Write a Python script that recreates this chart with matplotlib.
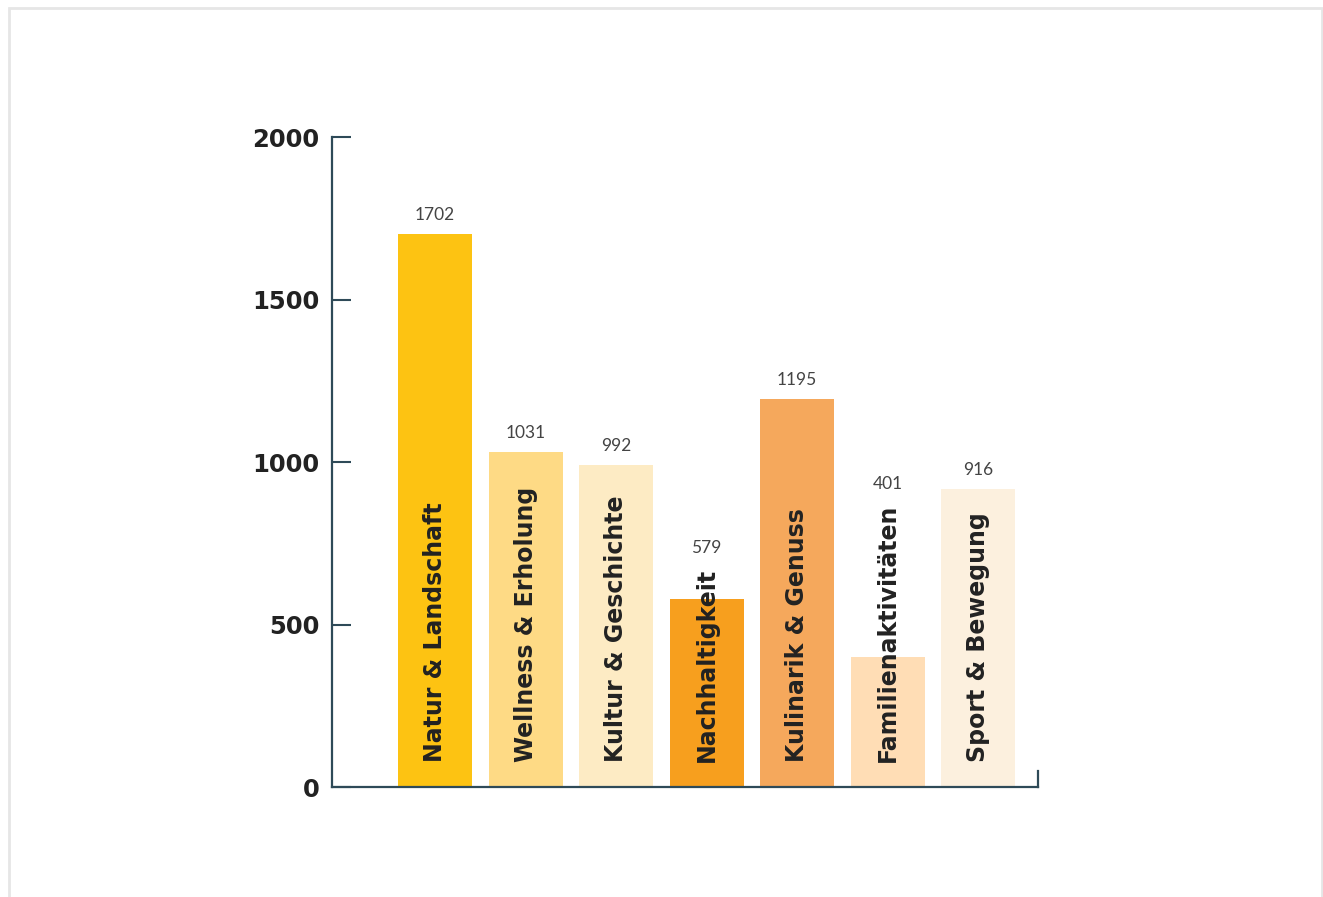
import matplotlib.pyplot as plt
from matplotlib.patches import Rectangle

##############################################
# Data
##############################################
categories = ["Natur & Landschaft", "Wellness & Erholung", "Kultur & Geschichte",
              "Nachhaltigkeit", "Kulinarik & Genuss", "Familienaktivitäten",
              "Sport & Bewegung"]
values = [1702, 1031, 992, 579, 1195, 401, 916]
colors = ["#FDC312", "#FEDA85", "#FDEBC4", "#F79F1E", "#F5A85C", "#FFDDB5", "#FCF0DE"]
yticks = [0, 500, 1000, 1500, 2000]

AXIS_COLOR = "#2E4A58"
TEXT_COLOR = "#222222"

##############################################
# Plot
##############################################
plt.rcParams['font.family'] = ['DejaVu Sans']

fig = plt.figure(figsize=(13.23, 8.97), dpi=100)
fig.patches.append(Rectangle((0.0065, -0.05), 0.9925, 1.041, transform=fig.transFigure,
                             fill=False, edgecolor="#E6E6E6", linewidth=2))

ax = fig.add_axes([0.2509, 0.1226, 0.5336, 0.7246])

x = list(range(len(categories)))
bars = ax.bar(x, values, width=0.82, color=colors)

ax.set_xlim(-1.14, 6.66)
ax.set_ylim(0, 2000)

# category names inside bars
names = []
for i, name in enumerate(categories):
    t = ax.text(i, 78, name, rotation=90, ha="center", va="bottom",
                fontsize=17, fontweight="bold", color=TEXT_COLOR)
    names.append(t)

# value labels, above bar or above the name if the name sticks out
fig.canvas.draw()
renderer = fig.canvas.get_renderer()
inv = ax.transData.inverted()
for i, v in enumerate(values):
    bb = names[i].get_window_extent(renderer)
    name_top = inv.transform((0, bb.y1))[1]
    base = max(v, name_top)
    ax.annotate(str(v), (i, base), xytext=(0, 8), textcoords="offset points",
                ha="center", va="bottom", fontsize=12.5, family="Lato",
                color="#444444")

ax.set_yticks(yticks)
ax.set_yticklabels([str(t) for t in yticks], fontsize=17.5, fontweight="bold",
                   color=TEXT_COLOR)
ax.set_xticks([])
ax.tick_params(axis="y", direction="in", length=14, width=1.5, color=AXIS_COLOR, pad=9)

ax.spines["top"].set_visible(False)
for s in ["left", "bottom", "right"]:
    ax.spines[s].set_color(AXIS_COLOR)
    ax.spines[s].set_linewidth(1.6)
ax.spines["right"].set_bounds(0, 50)

fig.savefig("out.png", dpi=100)
